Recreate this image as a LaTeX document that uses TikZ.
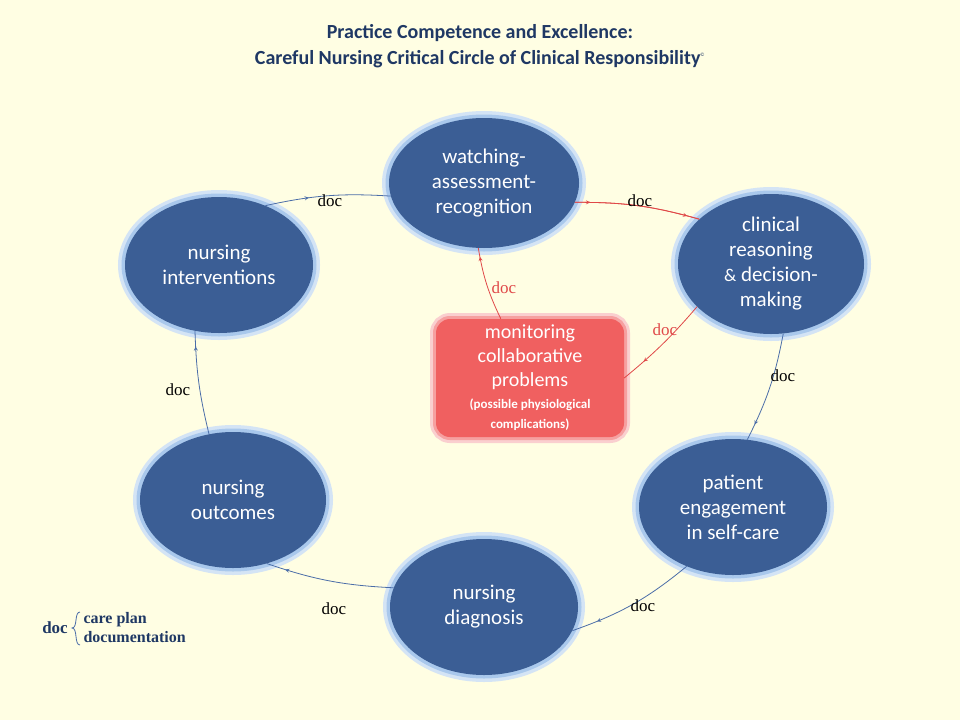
\documentclass[tikz,border=0pt]{standalone}
\usepackage{fontspec}
\setmainfont{Carlito}
\newfontfamily\docfont{Liberation Serif}
\usetikzlibrary{positioning,shapes.geometric,arrows.meta,decorations.markings}
\definecolor{bgyellow}{HTML}{FFFEE3}
\definecolor{stepblue}{HTML}{3B5E95}
\definecolor{glowblue}{HTML}{A9C8EC}
\definecolor{titleblue}{HTML}{1F3864}
\definecolor{linkblue}{HTML}{4A6DA8}
\definecolor{boxred}{HTML}{F06060}
\definecolor{linkred}{HTML}{E04848}
\tikzset{>=stealth,
  stage/.style={ellipse,fill=stepblue,text=white,align=center,font=\fontsize{21}{25}\selectfont,
    minimum width=#1,minimum height=136pt,inner sep=0pt,
    preaction={draw=glowblue!50,line width=14pt},preaction={draw=glowblue,line width=7pt}},
  stage/.default=188pt,
  doclbl/.style={font=\docfont\fontsize{17}{20}\selectfont,text=black},
  link/.style={draw=linkblue,line width=0.8pt,postaction={decorate},
    decoration={markings,mark=at position #1 with {\arrow[line width=0.8pt]{>}}}},
  link/.default=0.5,
  redlink/.style={draw=linkred,line width=0.8pt,postaction={decorate},
    decoration={markings,mark=at position #1 with {\arrow[line width=0.8pt]{>}}}},
  redlink/.default=0.5}

\begin{document}
\begin{tikzpicture}[x=1pt,y=-1pt]
\fill[bgyellow] (0,0) rectangle (960,720);
\useasboundingbox (0,0) rectangle (960,720);
% title
\node[font=\bfseries\fontsize{20}{26}\selectfont,text=titleblue,align=center] (title) at (480,46)
  {Practice Competence and Excellence:\\Careful Nursing Critical Circle of Clinical Responsibility\textsuperscript{\normalfont\tiny\copyright}};
% stages
\node[stage=190pt,minimum height=130pt] (watch) at (484,183) {watching-\\assessment-\\recognition};
\node[stage=186pt,minimum height=140pt] (reason) at (771,264) {clinical\\reasoning\\{\fontsize{18}{22}\selectfont\&} decision-\\making};
\node[stage] (engage) at (733,507) {patient\\engagement\\in self-care};
\node[stage] (diag) at (484,607) {nursing\\diagnosis};
\node[stage=186pt] (outc) at (233,500) {nursing\\outcomes};
\node[stage] (intv) at (219,265) {nursing\\interventions};
% monitoring box
\node[rounded corners=14pt,fill=boxred,text=white,align=center,minimum width=188pt,minimum height=118pt,
  preaction={draw=boxred!30,line width=12pt},preaction={draw=boxred!60,line width=6pt},
  font=\fontsize{20}{24}\selectfont] (monitor) at (530,378)
  {monitoring\\collaborative\\problems\\[-2pt]{\bfseries\fontsize{13}{19}\selectfont(possible physiological}\\[-4pt]{\bfseries\fontsize{13}{19}\selectfont complications)}};
% cycle links
\path[link=0.35] (intv.52) to[bend left=8] (watch.188);
\path[redlink=0.12] (watch.-12) to[bend left=8] (reason.148);
\path[redlink=0.9] (watch.-12) to[bend left=8] (reason.148);
\path[link=0.85] (reason.-80) to[bend left=8] (engage.78);
\path[link=0.8] (engage.-128) to[bend left=10] (diag.-15);
\path[link=0.85] (diag.168) to[bend left=8] (outc.-62);
\path[link=0.85] (outc.110) to[bend left=6] (intv.-110);
\path[redlink=0.75] (reason.-150) to[bend left=5] (monitor.east);
\path[redlink=0.88] (monitor.north west) ++(65,0) coordinate (mtop) (mtop) to[bend left=8] (watch.-95);
% doc labels
\node[doclbl] (d1) at (330,201) {doc};
\node[doclbl,text=black] (d2) at (640,201) {doc};
\node[doclbl] (d3) at (783,376) {doc};
\node[doclbl] (d4) at (643,606) {doc};
\node[doclbl] (d5) at (334,609) {doc};
\node[doclbl] (d6) at (178,390) {doc};
\node[doclbl,text=linkred] (d7) at (665,330) {doc};
\node[doclbl,text=linkred] (d8) at (504,288) {doc};
% legend
\node[doclbl,font=\docfont\bfseries\fontsize{17}{20}\selectfont,text=titleblue] (leg) at (55,628) {doc};
\draw[linkblue,line width=0.8pt] (80,612) .. controls (74,612) and (78,628) .. (72,628)
  .. controls (78,628) and (74,645) .. (80,645);
\node[font=\docfont\bfseries\fontsize{16}{19}\selectfont,text=titleblue,align=left,anchor=west] (legtxt) at (80,628)
  {care plan\\documentation};
\end{tikzpicture}
\end{document}
